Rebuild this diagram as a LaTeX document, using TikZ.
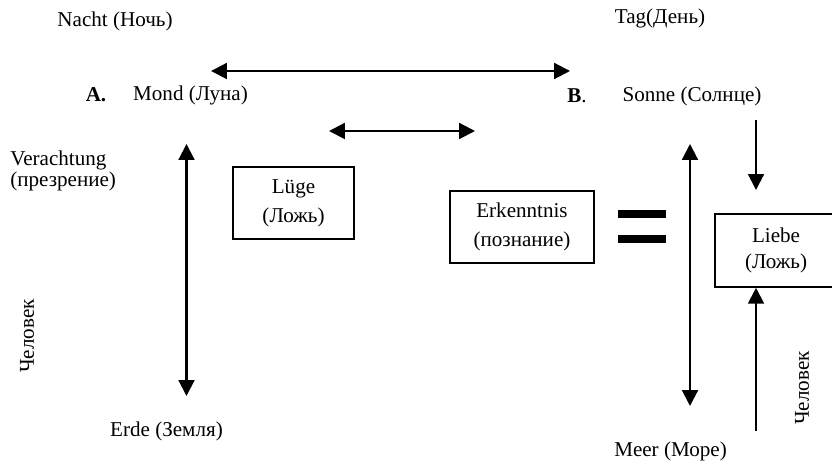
\documentclass[tikz,border=0pt,12pt]{standalone}
\usepackage{fontspec}
\setmainfont{Liberation Serif}
\usepackage{tikz}
\usetikzlibrary{arrows.meta, positioning}
\tikzstyle{wbox} = [draw, line width=0.9pt, minimum height=1.44cm, align=center, inner sep=0pt]
\tikzstyle{txt} = [inner sep=0pt]
\tikzstyle{line} = [draw, line width=1.2pt, {Triangle[length=9pt,width=9pt]}-{Triangle[length=9pt,width=9pt]}]
\tikzstyle{oneway} = [draw, line width=1.2pt, -{Triangle[length=9pt,width=9pt]}]

\begin{document}
\begin{tikzpicture}
			\useasboundingbox (0,0) rectangle (16.64,9.22);
			\node [txt] (nacht) at (2.30, 8.80) {Nacht (Ночь)};
			\node [txt] (tag) at (13.20, 8.86) {Tag(День)};
			\node [txt] (a) at (1.92, 7.32) {\textbf{A.}};
			\node [txt] (mond) at (3.81, 7.32) {Mond (Луна)};
			\node [txt] (b) at (11.54, 7.30) {\textbf{B}.};
			\node [txt] (sonne) at (13.84, 7.30) {Sonne (Солнце)};
			\node [txt, anchor=west, align=left, font=\fontsize{12}{10.5}\selectfont] (verachtung) at (0.20, 5.81) {Verachtung\\(презрение)};
			\node [wbox, minimum width=2.42cm] (luege) at (5.87, 5.16) {Lüge\\[2pt](Ложь)};
			\node [wbox, minimum width=2.88cm] (erkenntnis) at (10.44, 4.68) {Erkenntnis\\[2pt](познание)};
			\node [wbox, minimum width=2.44cm, minimum height=1.46cm] (liebe) at (15.52, 4.21) {Liebe\\(Ложь)};
			\node [txt, rotate=90] (mensch1) at (0.54, 2.50) {Человек};
			\node [txt, rotate=90] (mensch2) at (16.04, 1.46) {Человек};
			\node [txt] (erde) at (3.33, 0.60) {Erde (Земля)};
			\node [txt] (meer) at (13.41, 0.20) {Meer (Море)};
		
			\coordinate (t1) at (4.22, 7.80);
			\coordinate (t2) at (11.40, 7.80);
			\coordinate (m1) at (6.58, 6.60);
			\coordinate (m2) at (9.50, 6.60);
			\coordinate (l1) at (3.73, 6.34);
			\coordinate (l2) at (3.73, 1.30);
			\coordinate (r1) at (13.80, 6.34);
			\coordinate (r2) at (13.80, 1.10);
			\coordinate (s1) at (15.12, 6.82);
			\coordinate (s2) at (15.12, 5.42);
			\coordinate (u1) at (15.12, 0.60);
		
			\path [line] (t1) -- (t2);
			\path [line] (m1) -- (m2);
			\path [line] (l1) -- (l2);
			\path [line] (r1) -- (r2);
			\path [oneway] (s1) -- (s2);
			\path [oneway] (u1) -- (u1 |- liebe.south);
			% equals sign
			\draw [line width=4pt] (12.36, 4.94) -- (13.32, 4.94);
			\draw [line width=4pt] (12.36, 4.44) -- (13.32, 4.44);
		\end{tikzpicture}
\end{document}
